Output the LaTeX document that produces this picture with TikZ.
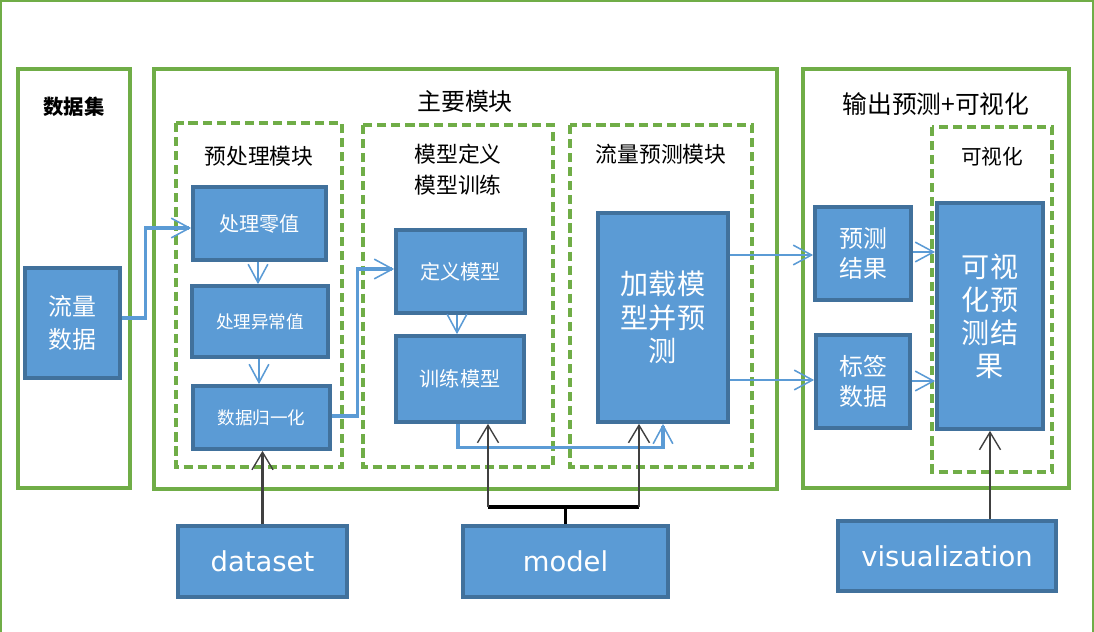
\documentclass[tikz,border=0pt]{standalone}
\usepackage{fontspec}
\usepackage{tikz}
\usetikzlibrary{arrows.meta}
\setmainfont{DejaVu Sans}
\newfontfamily\cjk{Noto Sans CJK SC}
\definecolor{grn}{HTML}{70AD47}
\definecolor{blu}{HTML}{5B9BD5}
\definecolor{bdr}{HTML}{41719C}
\definecolor{drk}{HTML}{404040}

\begin{document}
\begin{tikzpicture}[x=0.025cm,y=-0.025cm,inner sep=0pt]
    \tikzstyle{frame}=[draw=grn,line width=2.4pt]
    \tikzstyle{group}=[draw=grn,line width=2.4pt,dash pattern=on 6.5pt off 3.5pt]
    \tikzstyle{title}=[text=black,align=center,font=\cjk\fontsize{15.5}{22}\selectfont]
    \tikzstyle{block}=[rectangle,draw=bdr,fill=blu,line width=2.6pt,text=white,align=center,font=\cjk\fontsize{14.3}{20}\selectfont]
    \tikzstyle{src}=[block,font=\fontsize{19.5}{24}\selectfont]
    \tikzstyle{flow}=[draw=blu,line width=1.2pt,-{Straight Barb[length=13pt,width=14pt,line width=1.1pt]}]
    \tikzstyle{flowbig}=[flow,line width=2.3pt]
    \tikzstyle{feed}=[draw=drk,line width=1.6pt,-{Straight Barb[length=12.5pt,width=15pt,line width=1pt]}]
    \useasboundingbox (0,0) rectangle (1094,632);

    % frames
    \draw[draw=grn,line width=1.6pt] (1,1) rectangle (1093,680);
    \foreach \a/\b/\c/\d in {18/69/130/488, 154/69/777/489, 803/69/1069/488}
        \draw[frame] (\a,\b) rectangle (\c,\d);
    \foreach \a/\b/\c/\d in {176/123/342/467, 363/125/553/467, 570/125/752/467, 932/127/1052/472}
        \draw[group] (\a,\b) rectangle (\c,\d);

    % titles
    \node[title,font=\cjk\bfseries\fontsize{14.5}{18}\selectfont] (tdata) at (74,107) {数据集};
    \node[title,font=\cjk\fontsize{17}{22}\selectfont] (tmain) at (465,101) {主要模块};
    \node[title] (tpre) at (259,156) {预处理模块};
    \node[title] (tmod) at (458,170) {模型定义\\模型训练};
    \node[title] (tpred) at (661,154) {流量预测模块};
    \node[title,font=\cjk\fontsize{17.6}{22}\selectfont] (tout) at (936,104) {输出预测+可视化};
    \node[title,font=\cjk\fontsize{14.7}{18}\selectfont] (tvis) at (992,157) {可视化};

    % blocks
    \node[block,minimum width=2.375cm,minimum height=2.75cm,font=\cjk\fontsize{17}{23}\selectfont] (liuliang) at (72.5,323) {流量\\数据};
    \node[block,minimum width=3.325cm,minimum height=1.825cm] (ling) at (259.5,223.5) {处理零值};
    \node[block,minimum width=3.4cm,minimum height=1.775cm,font=\cjk\fontsize{12.5}{16}\selectfont] (yichang) at (260,321.5) {处理异常值};
    \node[block,minimum width=3.425cm,minimum height=1.575cm,font=\cjk\fontsize{12.5}{16}\selectfont] (guiyi) at (261.5,417.5) {数据归一化};
    \node[block,minimum width=3.225cm,minimum height=2.075cm] (dingyi) at (460.5,271.5) {定义模型};
    \node[block,minimum width=3.2cm,minimum height=2.15cm] (xunlian) at (460,379) {训练模型};
    \node[block,minimum width=3.25cm,minimum height=5.225cm,font=\cjk\fontsize{20}{24}\selectfont] (jiazai) at (663,317.5) {加载模\\型并预\\测};
    \node[block,minimum width=2.4cm,minimum height=2.325cm,font=\cjk\fontsize{17}{21}\selectfont] (yuce) at (863,253.5) {预测\\结果};
    \node[block,minimum width=2.35cm,minimum height=2.325cm,font=\cjk\fontsize{17}{21}\selectfont] (biaoqian) at (863,381.5) {标签\\数据};
    \node[block,minimum width=2.65cm,minimum height=5.65cm,font=\cjk\fontsize{20}{23.5}\selectfont] (keshi) at (990,316) {可视\\化预\\测结\\果};
    \node[src,minimum width=4.225cm,minimum height=1.775cm] (dataset) at (262.5,561.5) {dataset};
    \node[src,minimum width=5.125cm,minimum height=1.775cm] (model) at (565.5,561.5) {model};
    \node[src,minimum width=5.45cm,minimum height=1.75cm] (vis) at (947,556) {visualization};

    % blue connectors
    \draw[flowbig] (liuliang.east |- 0,318) -- ++(24,0) |- (ling.west |- 0,228);
    \draw[flow] (ling.south -| 258,0) -- (yichang.north -| 258,0);
    \draw[flow] (yichang.south -| 259,0) -- (guiyi.north -| 259,0);
    \draw[flowbig] (guiyi.east |- 0,416) -- ++(26,0) |- (dingyi.west |- 0,269);
    \draw[flow] (dingyi.south -| 457,0) -- (xunlian.north -| 457,0);
    \draw[flowbig] (xunlian.south -| 458,0) -- ++(0,24) -| (jiazai.south -| 663,0);
    \draw[flow] (jiazai.east |- 0,255) -- (yuce.west |- 0,255);
    \draw[flow] (jiazai.east |- 0,380) -- (biaoqian.west |- 0,380);
    \draw[flow] (yuce.east |- 0,252) -- (keshi.west |- 0,252);
    \draw[flow] (biaoqian.east |- 0,381) -- (keshi.west |- 0,381);

    % black connectors
    \draw[feed] (dataset.north) -- (dataset.north |- guiyi.south);
    \coordinate (mL) at (488,507);
    \coordinate (mR) at (639,507);
    \draw[black,line width=2.2pt] (model.north) -- (model.north |- mL);
    \draw[black,line width=2.2pt] (mL) -- (mR);
    \draw[feed] (mL) -- (mL |- xunlian.south);
    \draw[feed] (mR) -- (mR |- jiazai.south);
    \draw[feed] (vis.north -| keshi.south) -- (keshi.south);
\end{tikzpicture}
\end{document}
